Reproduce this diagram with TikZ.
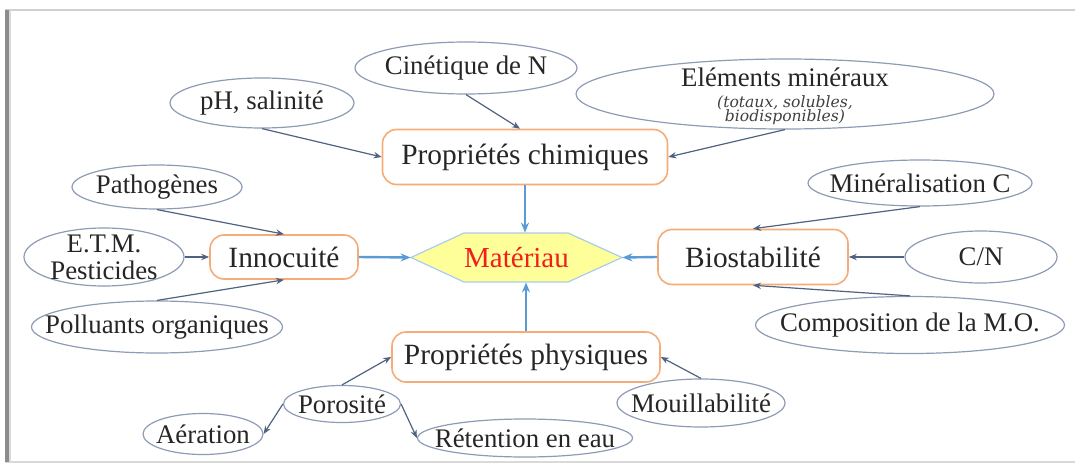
\documentclass[tikz,border=0pt]{standalone}
\usepackage{fontspec}
\setmainfont{Liberation Serif}
\newfontfamily\dvserif{DejaVu Serif}
\usetikzlibrary{shapes.geometric,arrows.meta}
\definecolor{connc}{HTML}{4F6280}
\definecolor{ellc}{HTML}{8E9BB5}
\definecolor{boxc}{HTML}{F5AC78}
\definecolor{blu}{HTML}{5B9BD5}
\definecolor{txt}{HTML}{262626}
\definecolor{hexfill}{HTML}{FFFF99}
\definecolor{hexline}{HTML}{A9CDEB}
\definecolor{matred}{HTML}{F21D1D}
\definecolor{itc}{HTML}{404040}
\begin{document}
\begin{tikzpicture}[x=0.5pt,y=-0.5pt,
  ell/.style={ellipse, draw=ellc, line width=0.6pt, inner sep=0pt},
  lbl/.style={inner sep=0pt, text=txt, font=\fontsize{13.4}{13.5}\selectfont, align=center},
  rbox/.style={rectangle, rounded corners=7pt, draw=boxc, line width=0.8pt, inner sep=0pt, text=txt, font=\fontsize{14.7}{17}\selectfont},
  connarrow/.style={draw=connc, line width=0.6pt, -{Stealth[length=4pt,width=3.2pt]}},
  bluearrow/.style={draw=blu, line width=1.2pt, -{Stealth[length=5pt,width=4pt]}}]
\useasboundingbox (0,0) rectangle (1075,465);
% frame
\draw[black!18, line width=0.8pt] (5,10) -- (1075,10);
\draw[black!15, line width=0.8pt] (5,462) -- (1075,462);
\draw[black!45, line width=1.6pt] (7,10) -- (7,462);
\draw[black!15, line width=1pt] (10,11) -- (10,461);
% hexagon
\draw[draw=hexline, fill=hexfill, line width=0.6pt] (411,257.5) -- (464,233) -- (568,233) -- (622,257.5) -- (568,282) -- (464,282) -- cycle;
\node[inner sep=0pt, minimum width=105.5pt, minimum height=24.5pt, text=matred, font=\fontsize{14.5}{17}\selectfont] (mat) at (516.5,257.5) {Matériau};
% boxes
\node[rbox, minimum width=142.5pt, minimum height=27.5pt] (propchim) at (525,157) {Propriétés chimiques};
\node[rbox, minimum width=74pt, minimum height=22pt] (innoc) at (284,257) {Innocuité};
\node[rbox, minimum width=95pt, minimum height=27.5pt] (biostab) at (753,257) {Biostabilité};
\node[rbox, minimum width=134pt, minimum height=25pt] (propphys) at (526,357) {Propriétés physiques};
% ellipses
\node[ell, minimum width=111pt, minimum height=26pt, label={[lbl]center:Cinétique de N}] (cin) at (466,68) {};
\node[ell, minimum width=92pt, minimum height=25pt, label={[lbl]center:pH, salinité}] (ph) at (262,103) {};
\node[ell, minimum width=209pt, minimum height=35pt, label={[lbl, yshift=-2.3pt]center:{\begin{tabular}{@{}c@{}}Eléments minéraux\\[-3pt]{\dvserif\itshape\fontsize{7.8}{8}\selectfont\color{itc}(totaux, solubles,}\\[-6.3pt]{\dvserif\itshape\fontsize{7.8}{8}\selectfont\color{itc}biodisponibles)}\end{tabular}}}] (elem) at (785,94) {};
\node[ell, minimum width=85pt, minimum height=22pt, label={[lbl]center:Pathogènes}] (path) at (157,187) {};
\node[ell, minimum width=80pt, minimum height=29pt, label={[lbl]center:E.T.M.\\Pesticides}] (etm) at (104,257) {};
\node[ell, minimum width=125.5pt, minimum height=26pt, label={[lbl]center:Polluants organiques}] (poll) at (157,327) {};
\node[ell, minimum width=112pt, minimum height=23pt, label={[lbl]center:Minéralisation C}] (minc) at (920,183) {};
\node[ell, minimum width=76pt, minimum height=26pt, label={[lbl]center:C/N}] (cn) at (981,257) {};
\node[ell, minimum width=154.5pt, minimum height=28.5pt, label={[lbl]center:Composition de la M.O.}] (compo) at (910,325) {};
\node[ell, minimum width=84pt, minimum height=24pt, label={[lbl]center:Mouillabilité}] (mouil) at (701,403) {};
\node[ell, minimum width=58.5pt, minimum height=18.5pt, label={[lbl]center:Porosité}] (poro) at (342,404) {};
\node[ell, minimum width=60pt, minimum height=20.5pt, label={[lbl]center:Aération}] (aer) at (203,434) {};
\node[ell, minimum width=107.5pt, minimum height=19pt, label={[lbl]center:Rétention en eau}] (ret) at (525,438) {};
% blue arrows
\draw[bluearrow] (propchim.south) -- (propchim.south |- mat.north);
\draw[bluearrow] (propphys.north) -- (propphys.north |- mat.south);
\draw[bluearrow] (innoc.east) -- (mat.west);
\draw[bluearrow] (biostab.west) -- (mat.east);
% thin connectors
\draw[connarrow] (ph.south) -- (propchim.west);
\draw[connarrow] (cin.south) -- (propchim.100);
\draw[connarrow] (elem.south) -- (propchim.east);
\draw[connarrow] (path.south) -- (innoc.north);
\draw[connarrow] (etm.east) -- (innoc.west);
\draw[connarrow] (poll.north) -- (innoc.south);
\draw[connarrow] (minc.south) -- (biostab.north);
\draw[connarrow] (cn.west) -- (biostab.east);
\draw[connarrow] (compo.north) -- (biostab.south);
\draw[connarrow] (poro.north) -- (propphys.west);
\draw[connarrow] (mouil.north) -- (propphys.east);
\draw[connarrow] (poro.west) -- (aer.east);
\draw[connarrow] (poro.east) -- (ret.west);
\end{tikzpicture}
\end{document}
